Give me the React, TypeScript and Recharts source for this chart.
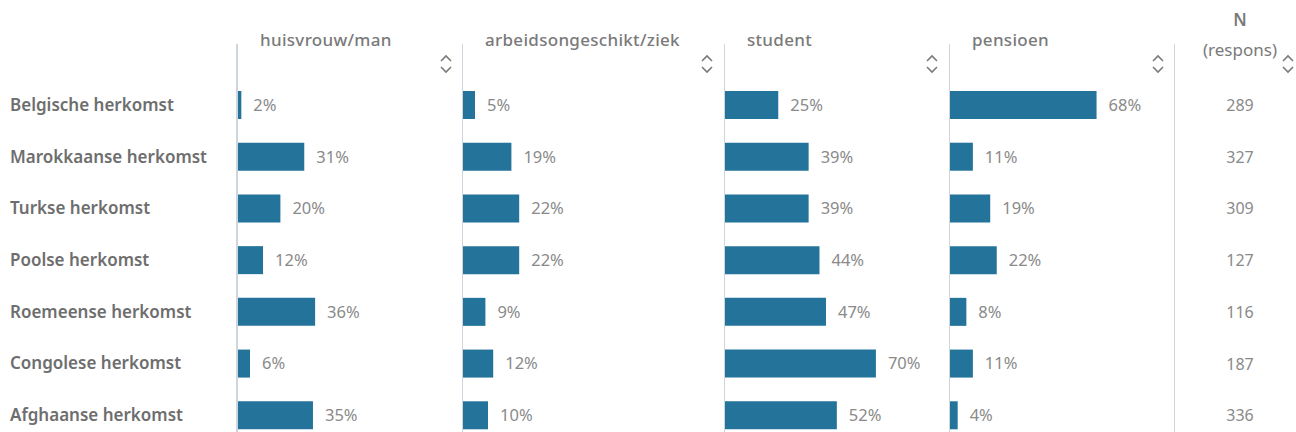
import React from 'react';
import { BarChart, Bar, XAxis, YAxis, LabelList, ReferenceLine } from 'recharts';

const origins = [
  'Belgische herkomst',
  'Marokkaanse herkomst',
  'Turkse herkomst',
  'Poolse herkomst',
  'Roemeense herkomst',
  'Congolese herkomst',
  'Afghaanse herkomst',
];

const huisvrouw = [2, 31, 20, 12, 36, 6, 35];
const arbeidsongeschikt = [5, 19, 22, 22, 9, 12, 10];
const student = [25, 39, 39, 44, 47, 70, 52];
const pensioen = [68, 11, 19, 22, 8, 11, 4];
const respons = [289, 327, 309, 127, 116, 187, 336];

const panelTitles = ['huisvrouw/man', 'arbeidsongeschikt/ziek', 'student', 'pensioen'];

const data = origins.map((name, i) => ({
  name,
  huisvrouw: huisvrouw[i],
  arbeid: arbeidsongeschikt[i],
  student: student[i],
  pensioen: pensioen[i],
  n: respons[i],
}));

const FONT = '"Noto Sans", "Open Sans", sans-serif';
const BAR = '#23739a';
const LINE = '#cfd5dc';
const CHART_H = 441;
const MARGIN = { top: 44, right: 0, bottom: 0, left: 0 };

const RowTick = (props: any) => {
  const { y, payload } = props;
  return (
    <text x={10} y={y} dy={6} textAnchor="start" fill="#6e6e6e" fontSize={17} fontWeight={600} fontFamily={FONT}>
      {payload.value}
    </text>
  );
};

const SortIcon = ({ left }: { left: number }) => (
  <svg style={{ position: 'absolute', left, top: 53 }} width={14} height={22}>
    <polyline points="2,8 7,3 12,8" fill="none" stroke="#7a7a7a" strokeWidth={1.6} />
    <polyline points="2,14 7,19 12,14" fill="none" stroke="#7a7a7a" strokeWidth={1.6} />
  </svg>
);

const panels = [
  { key: 'huisvrouw', left: 0, axisW: 237, plotW: 217, width: 462 },
  { key: 'arbeid', left: 462, axisW: 0, plotW: 260, width: 262 },
  { key: 'student', left: 724, axisW: 0, plotW: 217, width: 225 },
  { key: 'pensioen', left: 949, axisW: 0, plotW: 217, width: 225 },
];

const App: React.FC = () => {
  return (
    <div style={{ position: 'absolute', left: 0, top: 0, width: 1296, height: 432, overflow: 'hidden', background: '#fff', fontFamily: FONT }}>
      {panels.map((p, idx) => (
        <div key={p.key} style={{ position: 'absolute', left: p.left, top: 0 }}>
          <BarChart width={p.width} height={CHART_H} data={data} layout="vertical" margin={{ ...MARGIN, right: p.width - p.axisW - p.plotW }}>
            <XAxis type="number" domain={[0, 100]} hide />
            {idx === 0 ? (
              <YAxis type="category" dataKey="name" width={p.axisW} axisLine={false} tickLine={false} tick={<RowTick />} padding={{ top: 35, bottom: 0 }} />
            ) : (
              <YAxis type="category" dataKey="name" hide padding={{ top: 35, bottom: 0 }} />
            )}
            <Bar dataKey={p.key} fill={BAR} barSize={28} isAnimationActive={false}>
              <LabelList dataKey={p.key} position="right" offset={12} formatter={(v: any) => `${v}%`} fill="#8a8a8a" fontSize={16.5} fontFamily={FONT} />
            </Bar>
            <ReferenceLine x={0} stroke={LINE} strokeWidth={2} />
          </BarChart>
        </div>
      ))}

      <div style={{ position: 'absolute', left: 1174, top: 0 }}>
        <BarChart width={122} height={CHART_H} data={data} layout="vertical" margin={MARGIN}>
          <XAxis type="number" domain={[0, 1000000]} hide />
          <YAxis type="category" dataKey="name" hide padding={{ top: 35, bottom: 0 }} />
          <Bar dataKey="n" fill="none" barSize={28} isAnimationActive={false}>
            <LabelList
              dataKey="n"
              content={(props: any) => (
                <text x={Number(props.x) + 66} y={Number(props.y) + Number(props.height) / 2} dy={6} textAnchor="middle" fill="#8a8a8a" fontSize={16} fontFamily={FONT}>
                  {props.value}
                </text>
              )}
            />
          </Bar>
          <ReferenceLine x={0} stroke={LINE} strokeWidth={2} />
        </BarChart>
      </div>

      {panelTitles.map((t, i) => (
        <div key={t} style={{ position: 'absolute', left: panels[i].left + panels[i].axisW + 23, top: 28, fontSize: 17, letterSpacing: 0.3, color: '#7a7a7a', fontWeight: 500, whiteSpace: 'nowrap' }}>
          {t}
        </div>
      ))}
      <div style={{ position: 'absolute', left: 1190, top: 8, width: 100, textAlign: 'center', fontSize: 17, color: '#7a7a7a', fontWeight: 600 }}>N</div>
      <div style={{ position: 'absolute', left: 1190, top: 38, width: 100, textAlign: 'center', fontSize: 17, color: '#7a7a7a' }}>(respons)</div>

      {[439, 700, 925, 1151, 1281].map((l) => (
        <SortIcon key={l} left={l} />
      ))}
    </div>
  );
};

export default App;
